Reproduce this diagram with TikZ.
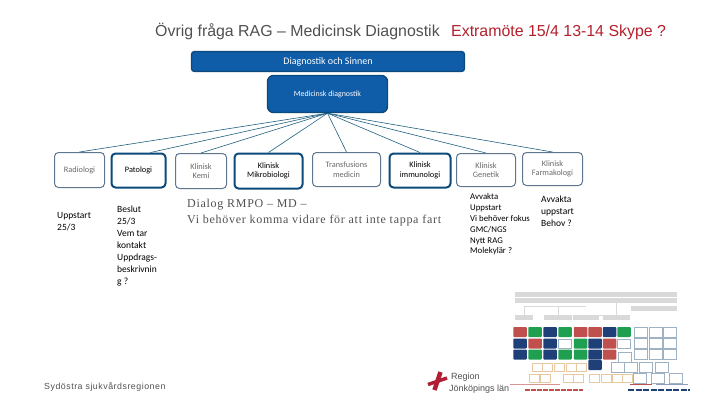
\documentclass[tikz,border=0pt]{standalone}
\usepackage{fontspec}
\setmainfont{Carlito}
\newfontfamily\titlefont{Liberation Sans}
\newfontfamily\serifwide[LetterSpace=6]{Liberation Serif}
\newfontfamily\footfont[LetterSpace=6]{Liberation Sans}
\usepackage{tikz}
\usetikzlibrary{arrows.meta,positioning,calc}
\definecolor{Navy}{HTML}{0B4A7A}
\definecolor{Royal}{HTML}{0F5CA8}
\definecolor{Slate}{HTML}{5F7690}
\definecolor{Wire}{HTML}{1F5F7F}
\definecolor{TitleGray}{HTML}{505050}
\definecolor{TitleRed}{HTML}{B3202C}
\definecolor{FadeGray}{HTML}{6A6A6A}
\definecolor{ChartRed}{HTML}{C0504D}
\definecolor{ChartGreen}{HTML}{1FA050}
\definecolor{ChartBlue}{HTML}{1F3F78}
\definecolor{ChartBar}{HTML}{D9D9D9}
\definecolor{ChartPeach}{HTML}{E8C8A0}
\definecolor{ChartPale}{HTML}{9FB2C4}
\definecolor{LogoRed}{HTML}{B01E35}
\tikzset{
  headbox/.style={draw=Navy,fill=Royal,line width=1.4pt,rounded corners=3pt,align=center,text=white,font=\fontsize{10}{11}\selectfont,inner sep=0pt},
  unit/.style={draw=Slate,fill=white,line width=1pt,rounded corners=4pt,align=center,text=FadeGray,font=\fontsize{8.3}{9.5}\selectfont,inner sep=0pt},
  active/.style={unit,draw=Navy,line width=2pt,text=black},
  wire/.style={draw=Wire,line width=.6pt},
  note/.style={align=left,anchor=north west,inner sep=0pt,font=\fontsize{9.5}{12}\selectfont},
  cell/.style={minimum width=13.5pt,minimum height=10pt,inner sep=0pt,rounded corners=.8pt},
  bar/.style={fill=ChartBar,minimum height=5pt,inner sep=0pt},
  peach/.style={draw=ChartPeach,line width=.5pt,fill=white,minimum width=10pt,minimum height=8pt,inner sep=0pt},
  pale/.style={draw=ChartPale,line width=.5pt,fill=white,minimum width=13pt,minimum height=9.5pt,inner sep=0pt},
}
\begin{document}
\begin{tikzpicture}[x=1pt,y=-1pt]
  \useasboundingbox (0,0) rectangle (720,405);
  \node[anchor=base west,inner sep=0pt,text=TitleGray,font=\titlefont\fontsize{15.9}{18}\selectfont] (title) at (155,36) {Övrig fråga RAG – Medicinsk Diagnostik};
  \node[anchor=base west,inner sep=0pt,text=TitleRed,font=\titlefont\fontsize{15.9}{18}\selectfont] (extra) at (451,36) {Extramöte 15/4 13-14 Skype ?};

  \node[headbox,minimum width=273pt,minimum height=20pt] (division) at (328,61.5) {Diagnostik och Sinnen};
  \node[headbox,rounded corners=6pt,minimum width=120pt,minimum height=37pt,font=\fontsize{7.9}{9}\selectfont] (meddiag) at (327.5,94) {Medicinsk diagnostik};

  \node[unit,minimum width=50pt,minimum height=35pt] (radiologi) at (79.5,170) {Radiologi};
  \node[active,minimum width=54pt,minimum height=34pt] (patologi) at (138.5,170.5) {Patologi};
  \node[unit,minimum width=51pt,minimum height=35pt] (kemi) at (201,171) {Klinisk\\Kemi};
  \node[active,minimum width=68pt,minimum height=35pt] (mikro) at (268.5,171) {Klinisk\\Mikrobiologi};
  \node[unit,minimum width=68pt,minimum height=34pt] (transf) at (346.5,169.5) {Transfusions\\medicin};
  \node[active,minimum width=61pt,minimum height=34pt] (immuno) at (420,170.5) {Klinisk\\immunologi};
  \node[unit,minimum width=59pt,minimum height=33pt] (genetik) at (486,170) {Klinisk\\Genetik};
  \node[unit,minimum width=60pt,minimum height=33pt] (farma) at (552.5,169) {Klinisk\\Farmakologi};

  \draw[wire] (meddiag.south) -- (radiologi.north);
  \draw[wire] (meddiag.south) -- ([xshift=12pt]patologi.north);
  \draw[wire] (meddiag.south) -- (kemi.north);
  \draw[wire] (meddiag.south) -- (mikro.north);
  \draw[wire] (meddiag.south) -- (transf.north);
  \draw[wire] (meddiag.south) -- (immuno.north);
  \draw[wire] (meddiag.south) -- (genetik.north);
  \draw[wire] (meddiag.south) -- (farma.north);

  \node[note] (uppstart) at (57,212.5) {Uppstart\\25/3};
  \node[note] (beslut) at (117,205.5) {Beslut\\25/3\\Vem tar\\kontakt\\Uppdrags-\\beskrivnin\\g ?};
  \node[note,font=\serifwide\fontsize{12}{16}\selectfont,text=TitleGray] (dialog) at (187,199) {Dialog RMPO – MD –\\Vi behöver komma vidare för att inte tappa fart};
  \node[note,font=\fontsize{8.8}{10.8}\selectfont] (avvakta) at (470,193.5) {Avvakta\\Uppstart\\Vi behöver fokus\\GMC/NGS\\Nytt RAG\\Molekylär ?};
  \node[note] (behov) at (541,195.5) {Avvakta\\uppstart\\Behov ?};
  \node[anchor=base west,inner sep=0pt,text=TitleGray,font=\footfont\fontsize{8.8}{10}\selectfont] (region) at (44,389) {Sydöstra sjukvårdsregionen};

  % thumbnail
  \node[bar,minimum width=162pt] (bar1) at (596,294.5) {};
  \node[bar,minimum width=162pt] (bar2) at (596,300.5) {};
  \node[bar,minimum width=46pt] (bar3) at (654,308) {};
  \foreach \n/\x/\w in {a/524/18,b/558/28,c/586/26,d/616.5/27}
    \node[bar,minimum width=\w pt] (sub\n) at (\x,317.5) {};
  \draw[ChartBar,line width=.5pt] (subc.north) |- (subd.north);
  \draw[ChartBar,line width=.5pt] (subc.north) ++(0,-9) -| (suba.north);
  \draw[ChartBar,line width=.5pt] (subb.north) -- ++(0,-9);
  \draw[ChartBar,line width=.5pt] (subd.north) -- ++(0,-9) -| (subd.north |- bar2.south);
  \foreach \x/\y/\c in {520/332/ChartRed,535/332/ChartGreen,550/332/ChartBlue,565/332/ChartGreen,580.5/332/ChartRed,595/332/ChartRed,609.5/332/ChartBlue,624/332/ChartGreen,
      520/343.5/ChartBlue,535/343.5/ChartRed,550/343.5/ChartBlue,580.5/343.5/ChartGreen,595/343.5/ChartBlue,609.5/343.5/ChartRed,
      520/354.5/ChartBlue,535/354.5/ChartGreen,550/354.5/ChartBlue,565/354.5/ChartGreen,580.5/354.5/ChartGreen,595/354.5/ChartBlue,609.5/354.5/ChartRed,
      595/365/ChartBlue}
    \node[cell,fill=\c] at (\x,\y) {};
  \foreach \x/\y in {565/343.5,624/343.5,624.5/357,641/332,655.5/332,670/332,641/343,655.5/343,670/343,641/354,655.5/354,670/354,618/367,631/367,646/367,662/367,640/378,658/378,676/378}
    \node[pale] at (\x,\y) {};
  \foreach \x/\y in {537/367,547.5/367,559.5/367,571/367,581.5/367,534/378,545/378,568/378,578.5/378,594.5/378,606/378,617/378,627/378}
    \node[peach] at (\x,\y) {};
  \draw[ChartRed!60,line width=1pt] (510,384.5) -- (560,384.5);
  \draw[ChartRed,line width=1.2pt,dash pattern=on 5pt off 1pt] (525,390) -- (583,390);
  \draw[ChartBlue,line width=1.2pt,dash pattern=on 6pt off 1.5pt] (628,390) -- (690,390);
  \draw[ChartRed,line width=.8pt] (630,384.5) -- (652,384.5);
  \draw[ChartBlue!50,line width=.8pt] (656,384.5) -- (688,384.5);

  % logo
  \draw[LogoRed,line width=4.5pt] (440.5,372) -- (434.5,390);
  \draw[LogoRed,line width=3.5pt] (428,384.5) -- (447,378);
  \node[anchor=base west,inner sep=0pt,text=TitleGray,font=\titlefont\fontsize{9}{10}\selectfont] (jkp1) at (451,379) {Region};
  \node[anchor=base west,inner sep=0pt,text=TitleGray,font=\titlefont\fontsize{9}{10}\selectfont] (jkp2) at (449,391) {Jönköpings län};
\end{tikzpicture}
\end{document}
